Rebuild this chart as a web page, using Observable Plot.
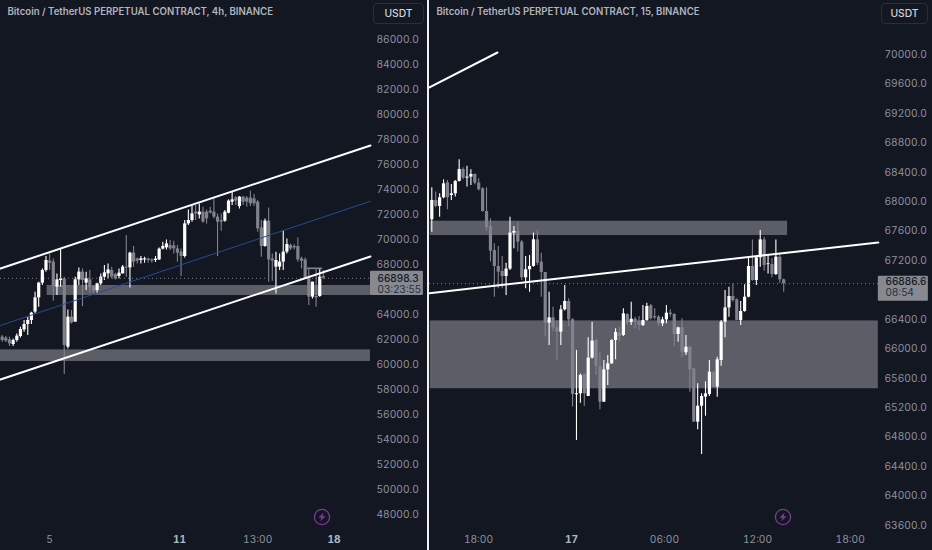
<!DOCTYPE html>
<html><head><meta charset="utf-8">
<script src="https://cdn.jsdelivr.net/npm/d3@7"></script>
<script src="https://cdn.jsdelivr.net/npm/@observablehq/plot@0.6"></script>
<style>
html,body{margin:0;padding:0;background:#131722;width:932px;height:550px;overflow:hidden;font-family:Inter,sans-serif}
#left,#right{position:absolute;top:0}
#left{left:0}#right{left:429px}
#div{position:absolute;left:427px;top:0;width:2px;height:550px;background:#f0f1f3}
.btn{position:absolute;top:3px;height:21px;box-sizing:border-box;border:1px solid #2a2e39;border-radius:4px;color:#d1d4dc;font:500 10.3px Inter,sans-serif;line-height:19px;text-align:center}
.bolt{position:absolute;top:508px;width:18px;height:18px}
svg{overflow:visible}
</style></head><body>
<div id="left"></div><div id="div"></div><div id="right"></div>
<div class="btn" style="left:373px;width:51px">USDT</div>
<div class="btn" style="left:881px;width:47px">USDT</div>
<svg class="bolt" style="left:313px" viewBox="0 0 18 18"><circle cx="9" cy="9" r="7.6" fill="none" stroke="#7a3a96" stroke-width="1.3"/><path d="M10.6 4.6 L5.4 9.8 H8.4 L7.2 13.4 L12.6 8.2 H9.6 Z" fill="#7a3a96"/></svg>
<svg class="bolt" style="left:774px" viewBox="0 0 18 18"><circle cx="9" cy="9" r="7.6" fill="none" stroke="#7a3a96" stroke-width="1.3"/><path d="M10.6 4.6 L5.4 9.8 H8.4 L7.2 13.4 L12.6 8.2 H9.6 Z" fill="#7a3a96"/></svg>
<script>
// ---- 4h panel ----
const leftTitle = "Bitcoin / TetherUS PERPETUAL CONTRACT, 4h, BINANCE";
const leftOpen = [62190,62110,61970,61600,61920,62240,62770,63200,63520,64190,65330,66510,67520,68270,68190,66190,66720,66850,61390,63790,63390,66770,67390,66510,66770,66190,65920,66450,66990,67250,67520,67200,67040,67250,67790,67730,68910,68450,68320,68370,68430,68370,68320,68370,69230,69330,69520,69490,69250,68990,68640,71250,71520,72190,71970,72190,72190,72270,72190,71790,71520,71470,72110,72990,73330,72640,73390,73310,73310,73250,72990,70930,69440,71470,68450,67790,67790,68190,68990,69520,69440,69440,68450,68370,66850,65390,65440,65440,67040];
const leftClose = [61920,61870,61650,61920,62270,62800,63200,63520,64110,65330,66510,67520,68320,68110,66240,66770,66850,61520,63790,63330,66770,67390,66720,66850,66130,65870,66450,66990,67330,67570,66990,66850,67310,67790,67730,68910,68190,68270,68450,68450,68320,68270,68430,69230,69440,69650,69250,69250,68910,68640,71250,71520,72050,72050,72190,71390,71650,72110,71790,71390,71390,72190,73070,73170,73070,73390,72990,72990,72850,72850,70850,69440,71470,68370,68270,68320,68190,68990,69600,69250,69330,68370,68270,66850,65390,66590,65330,66990,66900];
const leftHigh = [62320,62240,62190,62050,62450,62990,63520,63790,64190,65790,66590,67650,68640,68850,68450,67250,69250,66990,64370,64320,66990,67730,67650,67390,67520,66320,66510,67250,67920,68050,67790,67310,67650,67920,70320,68990,69440,68530,68640,68590,68530,68450,68640,69330,69790,69970,69920,69870,69520,69250,71520,72370,72720,72720,72850,72590,72370,72590,73250,72050,72050,72320,73170,73790,73440,73440,73440,73440,73870,73600,73120,71520,71650,72530,68850,68990,68850,70720,70050,69650,69600,70130,68590,68530,67650,66590,67650,67650,67520];
const leftLow = [61790,61760,61440,61440,61790,62130,62590,62320,63200,64050,64590,66320,67390,67520,65070,65520,66190,59200,61250,63250,63390,66320,64640,65920,65710,65650,65650,66320,66720,66850,66850,66770,66850,67250,66990,66130,67790,68050,68050,68110,68110,68110,68160,68320,69170,69170,69120,68850,68190,67040,68530,71120,71390,71520,71650,71310,71250,72050,71650,68640,70670,71390,72050,72720,72720,72450,72720,72590,72640,72640,70590,68590,69390,66590,66670,65650,67520,67520,68850,69120,69170,68190,67650,66850,64720,65250,64590,65390,66830];
const leftYTicks = d3.range(48000, 86001, 2000).filter(v => v !== 66000);
const leftXTicks = [13, 70];
const leftXTickLabels = ["5", "13:00"];
const leftXDays = [48.6, 90.9];
const leftXDayLabels = ["11", "18"];
const leftBands = [[12.3,100.9,66320,65520],[-0.47,100.9,61170,60240]];
const leftLedge = [[83.6,87.8,67720,67590]];
const leftLines = [
  {name:"top",   x:[-0.47,100.9], y:[67680,77520], c:"#ffffff", w:2},
  {name:"low",   x:[-0.47,100.9], y:[58800,68640], c:"#ffffff", w:2},
  {name:"mid",   x:[-0.47,100.9], y:[63120,73060], c:"#2a4a94", w:1}
];
const leftLast = 66898.3, leftCountdown = "03:23:55";
const leftLastBox = [100.9,115.4,67464,65520];

// ---- 15m panel ----
const rightTitle = "Bitcoin / TetherUS PERPETUAL CONTRACT, 15, BINANCE";
const rightOpen = [67754,68017,67935,68053,68257,68084,68107,68275,68438,68320,68334,68370,68252,68175,67867,67663,67337,67120,67052,66984,67084,67573,67596,67450,66966,67075,67120,67482,67179,67038,66350,66422,66287,66228,66531,66644,66395,65376,65389,65652,65353,65874,66114,65760,65276,65715,65797,66114,66213,66182,66467,66358,66403,66376,66317,66385,66585,66440,66430,66340,66394,66485,66467,66195,66286,65946,66023,65729,65004,65221,65344,65380,65683,65480,65842,66363,66557,66711,66666,66385,66508,66702,67119,66929,67237,67481,67145,67146,67010,67246,66938];
const rightClose = [68017,67935,68053,68243,68053,68107,68275,68438,68320,68334,68370,68252,68162,67867,67645,67328,67120,67043,66984,67084,67573,67596,67450,66966,67075,67120,67482,67165,67038,66350,66422,66287,66228,66531,66644,66395,65381,65390,65638,65389,65874,66105,65760,65276,65715,65797,66114,66222,66168,66476,66349,66403,66363,66317,66385,66576,66408,66422,66340,66394,66485,66467,66195,66286,65955,66023,65715,65004,65221,65353,65389,65683,65480,65851,66363,66557,66711,66657,66385,66508,66702,67119,66929,67237,67481,67133,67155,67010,67246,66938,66886.6];
const rightHigh = [68189,68130,68107,68297,68288,68234,68288,68569,68460,68483,68433,68379,68311,68189,68189,67768,67428,67392,67256,67165,67790,67663,67722,67473,67256,67269,67573,67609,67301,67038,66771,66567,66386,66590,66862,66681,66409,65979,65660,65660,66150,66363,66123,65955,65842,65910,66123,66272,66295,66544,66476,66634,66430,66440,66589,66621,66603,66544,66453,66430,66589,66530,66476,66295,66408,66181,66032,65729,65525,65389,65552,65842,65683,65887,66385,66793,66838,66883,66680,66643,66870,67246,67481,67255,67608,67518,67268,67223,67481,67291,66951];
const rightLow = [67586,67917,67790,68039,67890,68017,68062,68266,68297,68198,68220,68230,68144,67858,67600,67179,66703,66816,66816,66726,67066,67360,67315,66930,66816,66771,67111,67134,66703,66160,66047,66228,65843,66047,66513,66296,65209,64756,65262,65217,65353,65864,65638,65172,65270,65502,65788,65851,66091,66168,66317,66317,66272,66250,66304,66376,66394,66394,66304,66304,66340,66430,66032,66091,65878,65910,65412,65004,64900,64565,65085,65353,65480,65344,65765,66150,66430,66634,66385,66317,66499,66693,66920,66861,67110,67056,67019,66965,66996,66893,66770];
const rightYTicks = d3.range(63600, 70001, 400).filter(v => v !== 66800);
const rightXTicks = [11.94, 59.5, 83.3, 107];
const rightXTickLabels = ["18:00", "06:00", "12:00", "18:00"];
const rightXDays = [35.73];
const rightXDayLabels = ["17"];
const rightBands = [[-0.4,91,67735,67540],[-0.4,114.2,66380,65458]];
const rightLines = [
  {name:"a", x:[-0.6,114.2], y:[66757,67447], c:"#ffffff", w:2},
  {name:"b", x:[-0.6,16.8],  y:[69552,70027], c:"#ffffff", w:2}
];
const rightLast = 66886.6, rightCountdown = "08:54";
const rightLastBox = [114.2,127,66988,66648];

const UP="#ffffff", DOWN="#80838d", BAND="#5b5d67", AXIS="#8f929b", HEAD="#b2b5be";
const AF="Inter, sans-serif", AS=10.2;

function panel(o){
  const idx = d3.range(o.open.length);
  const isUp = i => o.close[i] >= o.open[i];
  const marks = [];
  marks.push(Plot.rect(o.bands,{x1:d=>d[0],x2:d=>d[1],y1:d=>d[2],y2:d=>d[3],fill:BAND}));
  for (const [f,col] of [[i=>!isUp(i),DOWN],[isUp,UP]]) {
    const s = idx.filter(f);
    marks.push(Plot.ruleX(s,{x:i=>i,y1:i=>o.low[i],y2:i=>o.high[i],stroke:col,strokeWidth:1.1}));
    marks.push(Plot.ruleX(s,{x:i=>i,y1:i=>o.open[i],y2:i=>o.close[i],stroke:col,strokeWidth:3.2,strokeLinecap:"butt"}));
  }
  if (o.ledge) marks.push(Plot.rect(o.ledge,{x1:d=>d[0],x2:d=>d[1],y1:d=>d[2],y2:d=>d[3],fill:DOWN}));
  marks.push(Plot.ruleY([o.last],{stroke:"#7c7f89",strokeWidth:1,strokeDasharray:"1,3"}));
  for (const l of o.lines) {
    marks.push(Plot.line(l.x.map((x,i)=>[x,l.y[i]]),{x:d=>d[0],y:d=>d[1],stroke:l.c,strokeWidth:l.w}));
  }
  marks.push(Plot.axisY({anchor:"right",ticks:o.yTicks,tickFormat:d=>d.toFixed(1),tickSize:0,tickPadding:o.axPad,label:null,fill:AXIS,fontSize:AS,fontFamily:AF}));
  marks.push(Plot.axisX({anchor:"bottom",ticks:o.xTicks,tickFormat:d=>o.xLabels[o.xTicks.indexOf(d)],tickSize:0,tickPadding:7,label:null,fill:AXIS,fontSize:AS,fontFamily:AF}));
  marks.push(Plot.axisX({anchor:"bottom",ticks:o.xDays,tickFormat:d=>o.dayLabels[o.xDays.indexOf(d)],tickSize:0,tickPadding:7,label:null,fill:HEAD,fontWeight:700,fontSize:AS,fontFamily:AF}));
  marks.push(Plot.rect([o.box],{x1:d=>d[0],x2:d=>d[1],y1:d=>d[2],y2:d=>d[3],fill:"#878991",rx:1}));
  marks.push(Plot.text([o.last],{y:d=>d,dy:o.dyA,frameAnchor:"right",textAnchor:"start",dx:o.axPad+1,text:d=>d.toFixed(1),fill:"#171a24",fontSize:AS,fontWeight:500,fontFamily:AF}));
  marks.push(Plot.text([o.count],{y:()=>o.last,dy:o.dyB,frameAnchor:"right",textAnchor:"start",dx:o.axPad+1,text:d=>d,fill:"#2a2d38",fontSize:AS,fontFamily:AF}));
  marks.push(Plot.text([o.title],{frameAnchor:"top-left",dx:o.titleX,dy:8,text:d=>d,fill:HEAD,fontSize:9.65,fontWeight:600,fontFamily:AF,textAnchor:"start"}));
  return Plot.plot({
    width:o.width,height:550,marginTop:0,marginBottom:22,marginLeft:0,marginRight:o.marginRight,
    style:{background:"transparent",overflow:"visible"},
    x:{type:"linear",domain:o.xDomain,range:o.xRange},
    y:{type:"linear",domain:o.yDomain,range:o.yRange},
    marks
  });
}

document.getElementById("left").append(panel({
  title:leftTitle,titleX:7,open:leftOpen,close:leftClose,high:leftHigh,low:leftLow,
  bands:leftBands,ledge:leftLedge,lines:leftLines,last:leftLast,count:leftCountdown,box:leftLastBox,dyA:0,dyB:11,
  yTicks:leftYTicks,xTicks:leftXTicks,xLabels:leftXTickLabels,xDays:leftXDays,dayLabels:leftXDayLabels,
  width:427,marginRight:57,axPad:6,
  xDomain:[0,100],xRange:[1.7,366.7],yDomain:[86000,48000],yRange:[39,514]
}));
document.getElementById("right").append(panel({
  title:rightTitle,titleX:7,open:rightOpen,close:rightClose,high:rightHigh,low:rightLow,
  bands:rightBands,lines:rightLines,last:rightLast,count:rightCountdown,box:rightLastBox,dyA:-1.5,dyB:9.5,
  yTicks:rightYTicks,xTicks:rightXTicks,xLabels:rightXTickLabels,xDays:rightXDays,dayLabels:rightXDayLabels,
  width:503,marginRight:54,axPad:6,
  xDomain:[0,100],xRange:[2.3,393.3],yDomain:[70000,63600],yRange:[54,525]
}));
</script></body></html>
